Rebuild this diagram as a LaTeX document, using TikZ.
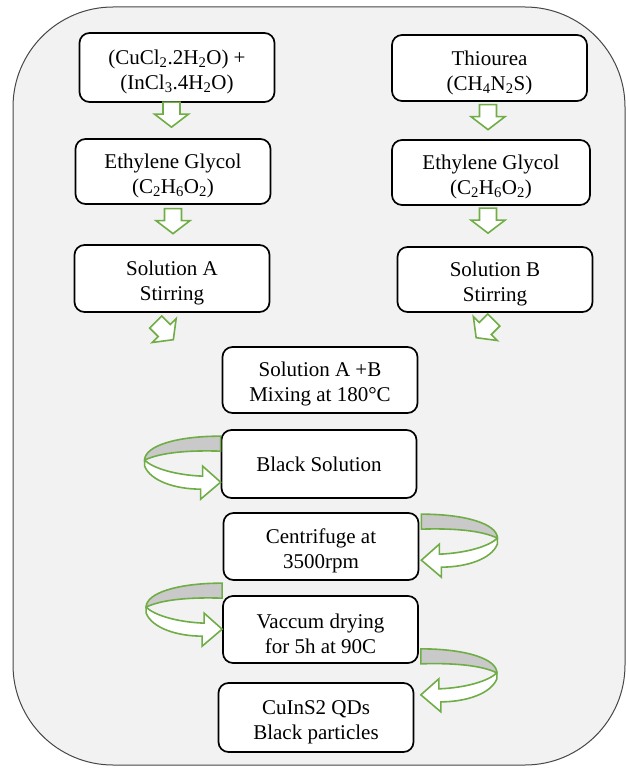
\documentclass[tikz,border=0pt]{standalone}
\usepackage{fontspec}
\setmainfont{Liberation Serif}
\usetikzlibrary{calc,math}
\definecolor{mygreen}{RGB}{112,173,71}
\definecolor{mybg}{RGB}{242,242,242}
\definecolor{myband}{RGB}{201,201,201}
\definecolor{myframe}{RGB}{70,70,70}

\tikzset{
  stepbox/.style={draw, rounded corners=10pt, line width=1.7pt, fill=white,
    minimum width=195pt, minimum height=67pt, align=center, inner sep=2pt,
    font=\fontsize{21}{25}\selectfont},
  greenline/.style={draw=mygreen, line width=1.6pt, fill=white},
}

% pushes two-line texts a little lower in their box
\newcommand{\boxstrut}{\rule{0pt}{23.5pt}}

% hollow block arrow: centre, angle
\newcommand{\blockarrow}[2]{
\begin{scope}[shift={#1},rotate=#2]
\draw[greenline] (-12.5,-8.5) -- (-0.5,-8.5) -- (-0.5,-17) -- (12.5,0) -- (-0.5,17) -- (-0.5,8.5) -- (-12.5,8.5) -- cycle;
\end{scope}
}

% curved return arrow: origin, xscale
\newcommand{\uturn}[2]{
\begin{scope}[shift={#1},xscale=#2]
\draw[greenline,fill=myband] (0,0) .. controls (-45,0) and (-76,10) .. (-76,24) .. controls (-60,16) and (-30,14) .. (0,15) -- cycle;
\draw[greenline] (-76,24) -- (-76,30) .. controls (-70,45) and (-45,53) .. (-20,53) -- (-20,63) -- (0,46) -- (-18,30) -- (-18,40) .. controls (-45,39) and (-68,32) .. (-76,24) -- cycle;
\end{scope}
}

\begin{document}
\begin{tikzpicture}[x=1pt,y=-1pt]
\useasboundingbox (0,0) rectangle (626,768);

\draw[myframe, line width=1pt, fill=mybg, rounded corners=100pt] (13,7) rectangle (625,765);

% left column
\node[stepbox, minimum height=69pt] (salts) at (177,67.5) {\boxstrut(CuCl\textsubscript{2}.2H\textsubscript{2}O) +\\(InCl\textsubscript{3}.4H\textsubscript{2}O)};
\node[stepbox, minimum height=65pt] (glycolA) at (173,171.5) {\boxstrut Ethylene Glycol\\(C\textsubscript{2}H\textsubscript{6}O\textsubscript{2})};
\node[stepbox] (solA) at (172,278.5) {\boxstrut Solution A\\Stirring};

% right column
\node[stepbox, minimum height=66pt] (thio) at (489.5,68) {\boxstrut Thiourea\\(CH\textsubscript{4}N\textsubscript{2}S)};
\node[stepbox, minimum height=65pt, minimum width=198pt] (glycolB) at (491,172.5) {\boxstrut Ethylene Glycol\\(C\textsubscript{2}H\textsubscript{6}O\textsubscript{2})};
\node[stepbox, minimum height=65pt] (solB) at (495,279.5) {\boxstrut Solution B\\Stirring};

% centre column
\node[stepbox, minimum height=66pt] (mix) at (320,380) {\boxstrut Solution A +B\\Mixing at 180°C};
\node[stepbox, minimum height=68pt] (black) at (319,464) {Black Solution};
\node[stepbox] (centri) at (321,546.5) {\boxstrut Centrifuge at\\3500rpm};
\node[stepbox] (vacuum) at (320.5,629.5) {\boxstrut Vaccum drying\\for 5h at 90C};
\node[stepbox, minimum height=69pt] (qds) at (316,717.5) {\boxstrut CuInS2 QDs\\Black particles};

\blockarrow{($(glycolA.north)+(-1.5,-23.5)$)}{-90}
\blockarrow{($(solA.north)+(1,-23)$)}{-90}
\blockarrow{($(glycolB.north)+(-3,-22)$)}{-90}
\blockarrow{($(solB.north)+(-7,-25.5)$)}{-90}
\blockarrow{($(solA.south)+(-7.5,18)$)}{-45}
\blockarrow{($(solB.south)+(-10,16)$)}{-135}

\uturn{($(black.north west)+(0,7)$)}{1}
\uturn{($(centri.north east)+(2,2)$)}{-1}
\uturn{($(vacuum.north west)+(0,-12)$)}{1}
\uturn{($(vacuum.south east)+(2,-15)$)}{-1}

\end{tikzpicture}
\end{document}
